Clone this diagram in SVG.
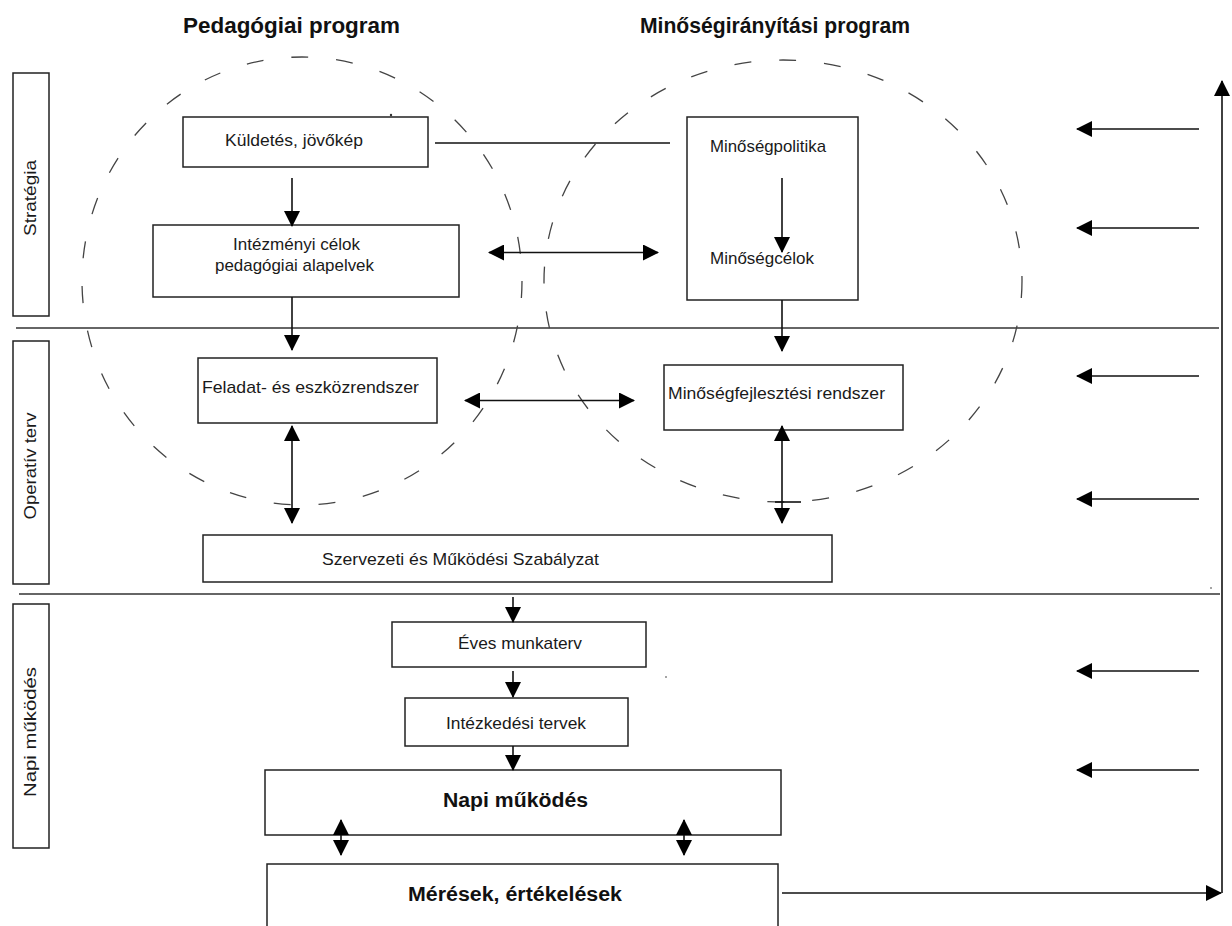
<svg xmlns="http://www.w3.org/2000/svg" width="1232" height="926" viewBox="0 0 1232 926">
<style>
.box{fill:#fff;stroke:#222;stroke-width:1.5}
.lbl{fill:none;stroke:#222;stroke-width:1.5}
.t{font-family:"Liberation Sans",Arial,sans-serif;font-size:17px;fill:#1a1a1a}
.b{font-family:"Liberation Sans",Arial,sans-serif;font-weight:bold;fill:#111}
.ln{stroke:#111;stroke-width:1.6;fill:none}
.sep{stroke:#333;stroke-width:1.5;fill:none}
.dash{fill:none;stroke:#444;stroke-width:1.3;stroke-dasharray:17 28}
</style>
<defs>
<marker id="ah" viewBox="0 0 16 16" refX="15" refY="8" markerWidth="16" markerHeight="16" markerUnits="userSpaceOnUse" orient="auto-start-reverse">
<path d="M0,0 L16,8 L0,16 z" fill="#000"/>
</marker>
</defs>
<rect width="1232" height="926" fill="#fff"/>

<g id="titles">
<text class="b" x="183" y="33" font-size="22" textLength="217" lengthAdjust="spacingAndGlyphs">Pedagógiai program</text>
<text class="b" x="640" y="33" font-size="22" textLength="270" lengthAdjust="spacingAndGlyphs">Minőségirányítási program</text>
</g>

<g id="separators">
<line class="sep" x1="16" y1="328" x2="1219" y2="328"/>
<line class="sep" x1="19" y1="594" x2="1220" y2="594"/>
</g>

<g id="circles">
<ellipse class="dash" cx="302" cy="281" rx="220" ry="224"/>
<ellipse class="dash" cx="783" cy="281" rx="239" ry="221"/>
</g>

<g id="level-strategia">
<rect class="lbl" x="13" y="73" width="36" height="243"/>
<text class="t" transform="translate(36,198) rotate(-90)" text-anchor="middle" font-size="18" textLength="76" lengthAdjust="spacingAndGlyphs">Stratégia</text>
</g>
<g id="level-operativ">
<rect class="lbl" x="13" y="341" width="36" height="243"/>
<text class="t" transform="translate(36,466) rotate(-90)" text-anchor="middle" font-size="18" textLength="107" lengthAdjust="spacingAndGlyphs">Operatív terv</text>
</g>
<g id="level-napi">
<rect class="lbl" x="13" y="604" width="36" height="244"/>
<text class="t" transform="translate(36,732) rotate(-90)" text-anchor="middle" font-size="18" textLength="130" lengthAdjust="spacingAndGlyphs">Napi működés</text>
</g>

<g id="kuldetes">
<rect class="box" x="183" y="117" width="245" height="50"/>
<text class="t" x="225" y="146" textLength="138" lengthAdjust="spacingAndGlyphs">Küldetés, jövőkép</text>
</g>
<g id="intezmenyi">
<rect class="box" x="153" y="225" width="306" height="72"/>
<text class="t" x="233" y="250" textLength="127" lengthAdjust="spacingAndGlyphs">Intézményi célok</text>
<text class="t" x="215" y="271" textLength="159" lengthAdjust="spacingAndGlyphs">pedagógiai alapelvek</text>
</g>
<g id="minosegpolitika">
<rect class="box" x="687" y="117" width="171" height="183"/>
<text class="t" x="710" y="152" textLength="116" lengthAdjust="spacingAndGlyphs">Minőségpolitika</text>
<text class="t" x="710" y="264" textLength="104" lengthAdjust="spacingAndGlyphs">Minőségcélok</text>
</g>
<g id="feladat">
<rect class="box" x="198" y="358" width="239" height="65"/>
<text class="t" x="202" y="393" textLength="217" lengthAdjust="spacingAndGlyphs">Feladat- és eszközrendszer</text>
</g>
<g id="minosegfejlesztesi">
<rect class="box" x="664" y="365" width="239" height="65"/>
<text class="t" x="668" y="399" textLength="217" lengthAdjust="spacingAndGlyphs">Minőségfejlesztési rendszer</text>
</g>
<g id="szmsz">
<rect class="box" x="203" y="535" width="629" height="47"/>
<text class="t" x="322" y="565" textLength="277" lengthAdjust="spacingAndGlyphs">Szervezeti és Működési Szabályzat</text>
</g>
<g id="eves">
<rect class="box" x="392" y="622" width="254" height="45"/>
<text class="t" x="458" y="649" textLength="124" lengthAdjust="spacingAndGlyphs">Éves munkaterv</text>
</g>
<g id="intezkedesi">
<rect class="box" x="405" y="698" width="223" height="48"/>
<text class="t" x="446" y="729" textLength="140" lengthAdjust="spacingAndGlyphs">Intézkedési tervek</text>
</g>
<g id="napi">
<rect class="box" x="265" y="770" width="516" height="65"/>
<text class="b" x="443" y="807" font-size="20" textLength="145" lengthAdjust="spacingAndGlyphs">Napi működés</text>
</g>
<g id="meresek">
<rect class="box" x="267" y="864" width="511" height="80"/>
<text class="b" x="408" y="901" font-size="20" textLength="214" lengthAdjust="spacingAndGlyphs">Mérések, értékelések</text>
</g>

<g id="connectors">
<line class="ln" x1="292" y1="178" x2="292" y2="226" marker-end="url(#ah)"/>
<line class="ln" x1="435" y1="143" x2="670" y2="143"/>
<line class="ln" x1="489" y1="252.5" x2="658" y2="252.5" marker-start="url(#ah)" marker-end="url(#ah)"/>
<line class="ln" x1="782" y1="178" x2="782" y2="252" marker-end="url(#ah)"/>
<line class="ln" x1="292" y1="297" x2="292" y2="350" marker-end="url(#ah)"/>
<line class="ln" x1="782" y1="300" x2="782" y2="351" marker-end="url(#ah)"/>
<line class="ln" x1="465" y1="400.5" x2="634" y2="400.5" marker-start="url(#ah)" marker-end="url(#ah)"/>
<line class="ln" x1="292" y1="426" x2="292" y2="523" marker-start="url(#ah)" marker-end="url(#ah)"/>
<line class="ln" x1="782" y1="426" x2="782" y2="523" marker-start="url(#ah)" marker-end="url(#ah)"/>
<line class="ln" x1="775" y1="502" x2="801" y2="502"/>
<line class="ln" x1="513" y1="597" x2="513" y2="622" marker-end="url(#ah)"/>
<line class="ln" x1="513" y1="671" x2="513" y2="697" marker-end="url(#ah)"/>
<line class="ln" x1="513" y1="746" x2="513" y2="770" marker-end="url(#ah)"/>
<line class="ln" x1="341" y1="820" x2="341" y2="855" marker-start="url(#ah)" marker-end="url(#ah)"/>
<line class="ln" x1="684" y1="820" x2="684" y2="855" marker-start="url(#ah)" marker-end="url(#ah)"/>
<line class="ln" x1="782" y1="893" x2="1221" y2="893" marker-end="url(#ah)"/>
<line class="ln" x1="1222" y1="893" x2="1222" y2="81" marker-end="url(#ah)"/>
<line class="ln" x1="1199" y1="129" x2="1077" y2="129" marker-end="url(#ah)"/>
<line class="ln" x1="1199" y1="228" x2="1077" y2="228" marker-end="url(#ah)"/>
<line class="ln" x1="1199" y1="376" x2="1077" y2="376" marker-end="url(#ah)"/>
<line class="ln" x1="1199" y1="499" x2="1077" y2="499" marker-end="url(#ah)"/>
<line class="ln" x1="1199" y1="671" x2="1077" y2="671" marker-end="url(#ah)"/>
<line class="ln" x1="1199" y1="770" x2="1077" y2="770" marker-end="url(#ah)"/>
</g>

<g id="specks" fill="#333">
<circle cx="391" cy="115" r="1.2"/>
<circle cx="666" cy="677" r="0.8"/>
<circle cx="1211" cy="588" r="0.8"/>
</g>
</svg>
